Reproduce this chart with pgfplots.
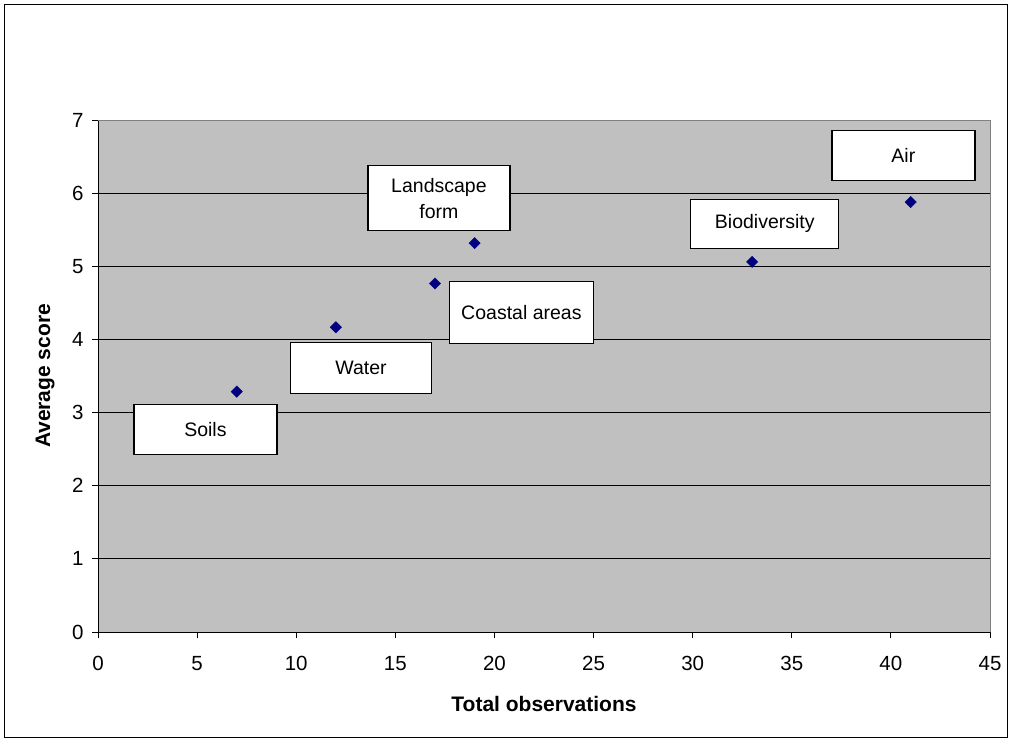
\documentclass[border=0pt]{standalone}
\usepackage{fontspec}
\setmainfont{Liberation Sans}
\usepackage{pgfplots}
\pgfplotsset{compat=1.18}
\definecolor{plotgray}{RGB}{192,192,192}
\definecolor{bordergray}{RGB}{128,128,128}
\definecolor{navyblue}{RGB}{0,0,128}
\tikzset{box/.style={draw=black, fill=white, line width=1.3pt, font=\fontsize{19.5}{26}\selectfont, align=center, inner sep=0pt}}
\begin{document}
\begin{tikzpicture}[x=1pt,y=1pt]
\useasboundingbox (0,0) rectangle (1012,742);
\draw[black, line width=1pt] (4.5,4.5) rectangle (1007.5,737.5);
\begin{axis}[
  at={(98pt,110pt)}, anchor=south west,
  scale only axis, width=892pt, height=512pt,
  xmin=0, xmax=45, ymin=0, ymax=7,
  xtick={0,5,...,45}, ytick={0,1,...,7},
  axis background/.style={fill=plotgray},
  axis x line*=bottom, axis y line*=left,
  axis line style={black, line width=1pt, -},
  ymajorgrids, major grid style={black, line width=1pt},
  tick align=outside, major tick length=6pt, tick style={black, line width=1pt},
  /pgf/number format/assume math mode=true,
  tick label style={font=\fontsize{20.5}{22}\selectfont},
  xticklabel style={yshift=-15pt},
  yticklabel style={xshift=-5pt},
  xlabel={\bfseries Total observations},
  ylabel={\bfseries Average score},
  label style={font=\fontsize{21}{24}\selectfont},
  xlabel style={at={(axis description cs:0.5,-0.1406)}, anchor=center},
  ylabel style={at={(axis description cs:-0.0594,0.5)}, anchor=center},
  clip=false,
]
\draw[bordergray, line width=1pt] (rel axis cs:0,1) -- (rel axis cs:1,1) -- (rel axis cs:1,0);
\addplot[only marks, mark=square*, mark size=4pt, mark options={rotate=45, draw=navyblue, fill=navyblue}, color=navyblue]
  coordinates {(7,3.286) (12,4.167) (17,4.765) (19,5.316) (33,5.061) (41,5.878)};
\node[box, minimum width=142pt, minimum height=65pt] at (axis cs:17.20,5.93) {Landscape\\form};
\node[box, minimum width=144pt, minimum height=62pt] at (axis cs:21.36,4.368) {Coastal areas};
\node[box, minimum width=141pt, minimum height=51pt] at (axis cs:13.27,3.609) {Water};
\node[box, minimum width=143pt, minimum height=50pt] at (axis cs:5.42,2.771) {Soils};
\node[box, minimum width=148pt, minimum height=49pt] at (axis cs:33.64,5.581) {Biodiversity};
\node[box, minimum width=143pt, minimum height=50pt] at (axis cs:40.63,6.512) {Air};
\end{axis}
\end{tikzpicture}
\end{document}
